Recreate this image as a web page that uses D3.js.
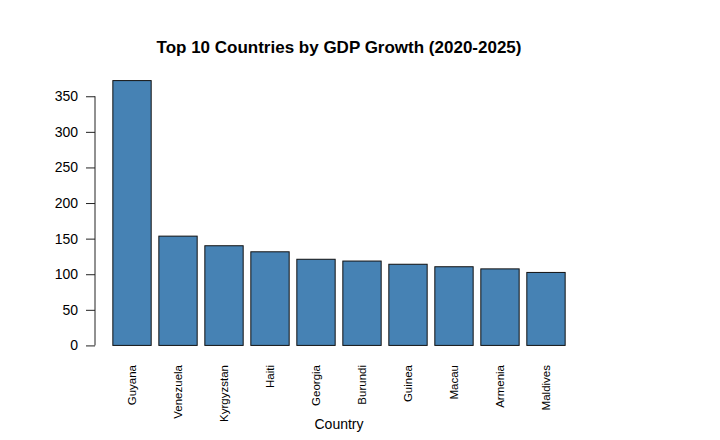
<!DOCTYPE html>
<html>
<head>
<meta charset="utf-8">
<script src="https://cdn.jsdelivr.net/npm/d3@7"></script>
<style>
    body { margin: 0; background: #fff; }
    svg text { font-family: "Liberation Sans", Arial, Helvetica, sans-serif; fill: #000; }
</style>
</head>
<body>
<div id="chart"></div>
<script>
// Data
const countries = ['Guyana', 'Venezuela', 'Kyrgyzstan', 'Haiti', 'Georgia',
    'Burundi', 'Guinea', 'Macau', 'Armenia', 'Maldives'];
const growth = [372, 153.5, 140, 131.5, 121, 118.5, 114, 110.5, 107.5, 102.5];
const yTicks = [0, 50, 100, 150, 200, 250, 300, 350];

const width = 720;
const height = 440;
// plot region (R-style base graphics)
const plot = { left: 95, right: 583, top: 70, bottom: 356 };

const rows = countries.map((c, i) => ({ name: c, value: growth[i] }));

const svg = d3.select('#chart').append('svg')
    .attr('width', width)
    .attr('height', height);

// Scales
const x = d3.scaleBand()
    .domain(countries)
    .range([plot.left, plot.right])
    .paddingInner(1 / 6)
    .paddingOuter(0.388);

// R extends ylim by 4% on each side
const yMax = d3.max(growth);
const y = d3.scaleLinear()
    .domain([-0.04 * yMax, yMax * 1.04])
    .range([plot.bottom, plot.top]);

// Bars
svg.selectAll('.bar')
    .data(rows)
    .enter()
    .append('rect')
    .attr('class', 'bar')
    .attr('x', d => x(d.name))
    .attr('y', d => y(d.value))
    .attr('width', x.bandwidth())
    .attr('height', d => y(0) - y(d.value))
    .attr('fill', '#4682B4')
    .attr('stroke', '#111')
    .attr('stroke-width', 1);

// Y axis, line only spans first to last tick
const yAxis = svg.append('g')
    .attr('transform', `translate(${plot.left},0)`)
    .call(d3.axisLeft(y)
        .tickValues(yTicks)
        .tickSize(9)
        .tickSizeOuter(0)
        .tickPadding(8));

yAxis.select('.domain')
    .attr('d', `M0,${y(yTicks[0])}V${y(yTicks[yTicks.length - 1])}`)
    .attr('stroke', '#222');
yAxis.selectAll('.tick line').attr('stroke', '#222');
yAxis.selectAll('.tick text')
    .attr('font-size', '14px')
    .attr('fill', '#000');

// Category labels, rotated like las = 2
svg.selectAll('.label')
    .data(rows)
    .enter()
    .append('text')
    .attr('class', 'label')
    .attr('transform', d => `translate(${x(d.name) + x.bandwidth() / 2 + 4},365) rotate(-90)`)
    .attr('text-anchor', 'end')
    .attr('font-size', '11.5px')
    .text(d => d.name);

// Axis title
svg.append('text')
    .attr('x', (plot.left + plot.right) / 2)
    .attr('y', 429)
    .attr('text-anchor', 'middle')
    .attr('font-size', '14px')
    .text('Country');

// Main title
svg.append('text')
    .attr('x', (plot.left + plot.right) / 2)
    .attr('y', 53)
    .attr('text-anchor', 'middle')
    .attr('font-size', '17px')
    .attr('font-weight', 'bold')
    .text('Top 10 Countries by GDP Growth (2020-2025)');
</script>
</body>
</html>
